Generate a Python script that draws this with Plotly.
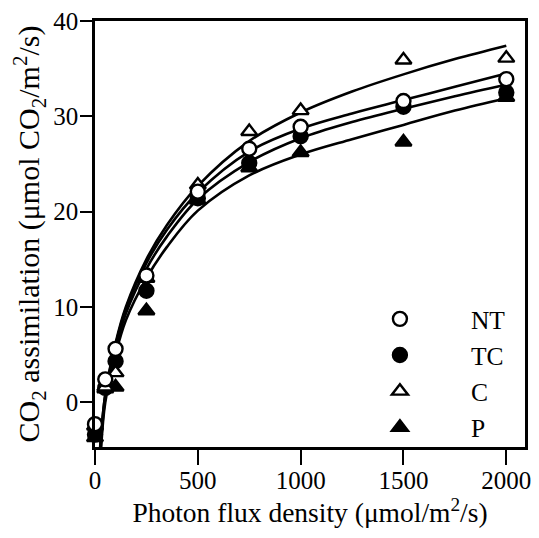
import plotly.graph_objects as go

# Measured light-response data (photon flux density vs CO2 assimilation)
ppfd = [0, 50, 100, 250, 500, 750, 1000, 1500, 2000]
nt_obs = [-2.3, 2.4, 5.6, 13.3, 22.1, 26.6, 28.9, 31.6, 33.9]
tc_obs = [-3.4, 1.5, 4.3, 11.7, 21.4, 25.1, 27.9, 31.0, 32.5]
c_obs = [-2.5, 1.6, 3.1, 13.0, 22.8, 28.4, 30.6, 35.9, 36.1]
p_obs = [-3.7, 1.4, 1.6, 9.6, 21.2, 24.6, 26.2, 27.3, 32.0]

# Fitted response curves, sampled along the photon flux axis
fit_x_c = [25, 50, 100, 150, 250, 350, 500, 750, 1000, 1250, 1500, 1750, 2000]
fit_c = [-4.7, 0.8, 6.2, 10.0, 15.0, 18.6, 22.7, 27.4, 30.4, 32.6, 34.4, 36.0, 37.4]
fit_x_nt = [26, 50, 100, 150, 250, 350, 500, 750, 1000, 1250, 1500, 1750, 2000]
fit_nt = [-4.7, 0.8, 6.0, 9.8, 14.6, 18.1, 22.0, 26.3, 28.7, 30.3, 31.7, 33.1, 34.5]
fit_x_tc = [28, 50, 100, 150, 250, 350, 500, 750, 1000, 1250, 1500, 1750, 2000]
fit_tc = [-4.7, 0.4, 5.6, 9.3, 14.0, 17.4, 21.3, 25.2, 27.7, 29.4, 30.8, 32.1, 33.3]
fit_x_p = [30, 50, 100, 150, 250, 350, 500, 750, 1000, 1250, 1500, 1750, 2000]
fit_p = [-4.7, 0.0, 5.0, 8.6, 13.0, 16.3, 20.1, 23.8, 26.0, 27.6, 29.1, 30.6, 31.9]

x_ticks = [0, 500, 1000, 1500, 2000]
y_ticks = [0, 10, 20, 30, 40]

SERIF = "Liberation Serif, Times New Roman, serif"
INK = "black"

fig = go.Figure()

for fx, fy in [(fit_x_c, fit_c), (fit_x_nt, fit_nt), (fit_x_tc, fit_tc), (fit_x_p, fit_p)]:
    fig.add_trace(go.Scatter(
        x=fx, y=fy, mode="lines",
        line=dict(color=INK, width=2.6, shape="spline", smoothing=1.0),
        showlegend=False, hoverinfo="skip", cliponaxis=False,
    ))

# drawn bottom-up so the open circles sit on top; legend order set by rank
series = [
    ("P", p_obs, "triangle-up", INK, 3),
    ("TC", tc_obs, "circle", INK, 1),
    ("C", c_obs, "triangle-up", "white", 2),
    ("NT", nt_obs, "circle", "white", 0),
]
for name, ys, sym, fill, rank in series:
    fig.add_trace(go.Scatter(
        x=ppfd, y=ys, mode="markers", name=name,
        marker=dict(symbol=sym, size=14, color=fill,
                    line=dict(color=INK, width=2.4)),
        legendrank=rank, cliponaxis=False,
    ))

fig.update_layout(
    width=539, height=538,
    margin=dict(l=95, r=8, t=20, b=91),
    paper_bgcolor="white", plot_bgcolor="white",
    font=dict(family=SERIF, color=INK, size=25),
    showlegend=True,
    legend=dict(
        x=0.544, y=0.355, xanchor="left", yanchor="top",
        bgcolor="rgba(0,0,0,0)", borderwidth=0,
        font=dict(family=SERIF, size=25.5, color=INK),
        itemwidth=132, tracegroupgap=0, traceorder="normal",
    ),
    xaxis=dict(
        range=[0, 2091], tickvals=x_ticks, ticktext=[str(v) for v in x_ticks],
        showgrid=False, zeroline=False,
        showline=True, linecolor=INK, linewidth=2.5, mirror=True,
        ticks="outside", ticklen=15, tickwidth=2.2, tickcolor=INK,
        tickfont=dict(family=SERIF, size=25), ticklabelstandoff=-6,
        title=dict(text="Photon flux density (μmol/m<sup>2</sup>/s)",
                   font=dict(family=SERIF, size=27.5), standoff=4),
    ),
    yaxis=dict(
        range=[-4.7, 40], tickvals=y_ticks, ticktext=[str(v) for v in y_ticks],
        showgrid=False, zeroline=False,
        showline=True, linecolor=INK, linewidth=2.5, mirror=True,
        ticks="outside", ticklen=12, tickwidth=2.2, tickcolor=INK,
        tickfont=dict(family=SERIF, size=25), ticklabelstandoff=-3,
        title=dict(text="CO<sub>2</sub> assimilation (μmol CO<sub>2</sub>/m<sup>2</sup>/s)",
                   font=dict(family=SERIF, size=30), standoff=5),
    ),
)

fig.write_html("out.html")
